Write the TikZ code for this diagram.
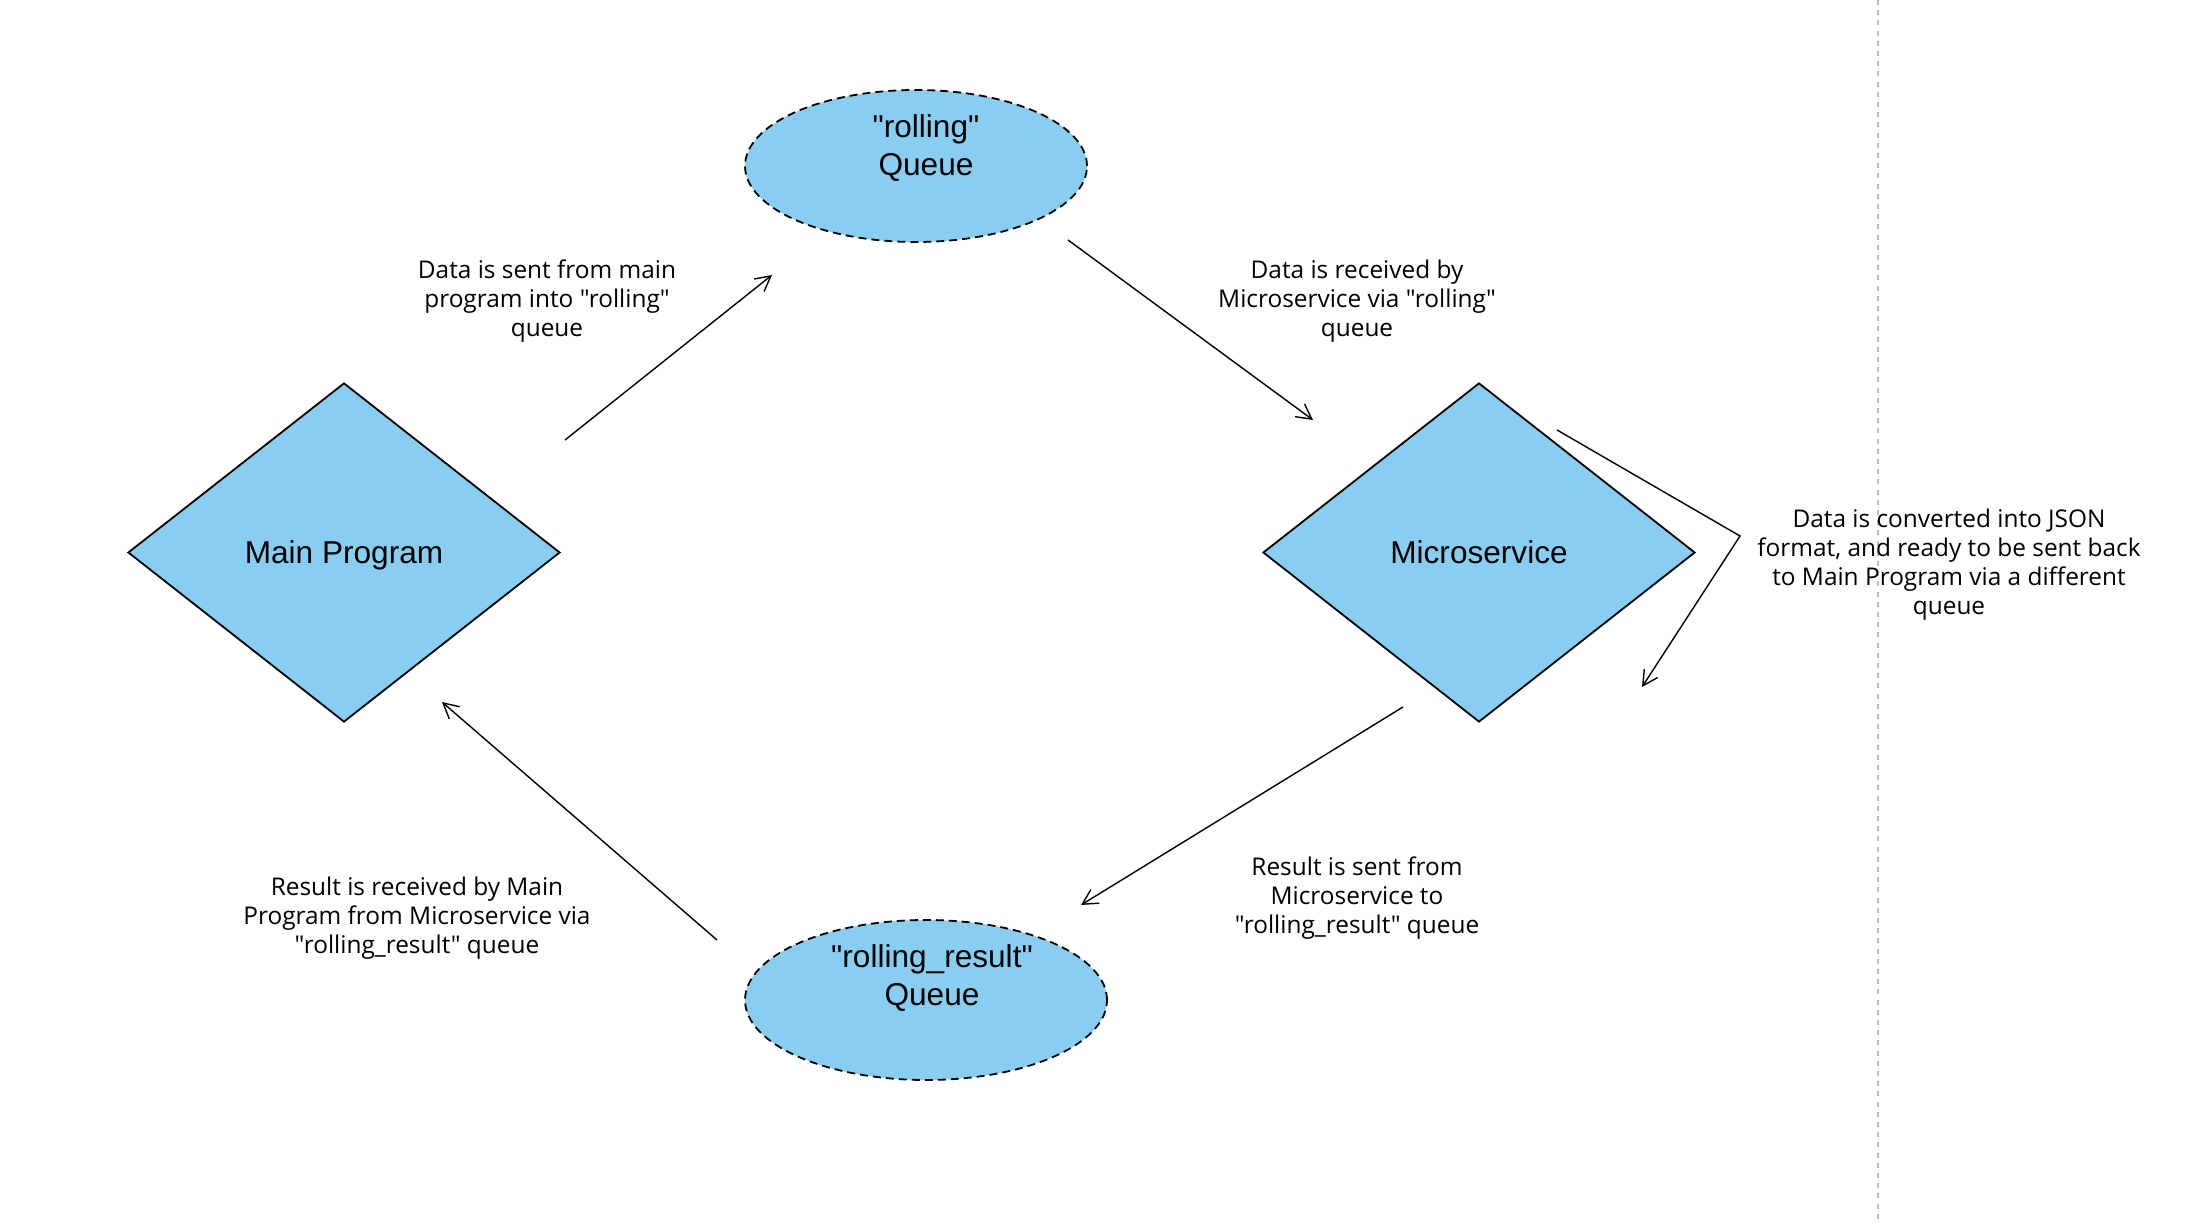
\documentclass[tikz,border=0pt]{standalone}
\usepackage{fontspec}
\newfontfamily\notefont{Open Sans}
\newfontfamily\shapefont{Liberation Sans}
\usetikzlibrary{shapes.geometric,arrows.meta}
\definecolor{queueblue}{RGB}{136,206,240}
\definecolor{pageline}{RGB}{190,190,190}
\tikzset{>={Straight Barb[length=7.5pt,width=8pt]}}
\tikzset{
	proc/.style={diamond, draw, line width=0.9pt, fill=queueblue, inner sep=0pt,
		minimum width=216pt, minimum height=169.5pt, text height=11.3pt, text depth=0pt,
		font=\shapefont\fontsize{15.8}{18}\selectfont},
	queue/.style={ellipse, draw, dashed, dash pattern=on 4pt off 2.5pt, line width=0.9pt,
		fill=queueblue, inner sep=0pt},
	qtext/.style={align=center, font=\shapefont\fontsize{15.8}{19}\selectfont},
	note/.style={align=center, font=\notefont\fontsize{12.2}{14.5}\selectfont},
	flow/.style={->, line width=0.7pt}
}

\begin{document}
\begin{tikzpicture}[x=0.5pt,y=-0.5pt]
	\useasboundingbox [fill=white] (0,0) rectangle (2205,1224);
	% page break line
	\draw [pageline, line width=0.6pt, dash pattern=on 2.5pt off 2.6pt] (1878,0) -- (1878,1224);
	% shapes
	\node [proc] (main) at (344,552.5) {Main Program};
	\node [proc] (micro) at (1479,552.5) {Microservice};
	\node [queue, minimum width=171pt, minimum height=76pt,
		label={[qtext, xshift=5pt, yshift=9pt]center:{"rolling"\\Queue}}] (rolling) at (916,166) {};
	\node [queue, minimum width=181pt, minimum height=80pt,
		label={[qtext, xshift=3pt, yshift=11pt]center:{"rolling\_result"\\Queue}}] (result) at (926,1000) {};
	% arrow ends
	\coordinate (s1) at (565,440);   \coordinate (e1) at (772,275);
	\coordinate (s2) at (1068,240);  \coordinate (e2) at (1313,420);
	\coordinate (s3) at (1557,430);  \coordinate (k3) at (1740,536);  \coordinate (e3) at (1642,687);
	\coordinate (s4) at (1403,707);  \coordinate (e4) at (1081,905);
	\coordinate (s5) at (717,940);   \coordinate (e5) at (442,702);
	\draw [flow] (s1) -- (e1);
	\draw [flow] (s2) -- (e2);
	\draw [flow] (s3) -- (k3) -- (e3);
	\draw [flow] (s4) -- (e4);
	\draw [flow] (s5) -- (e5);
	% notes
	\node [note] (n1) at (547,301) {Data is sent from main\\program into "rolling"\\queue};
	\node [note] (n2) at (1357,301) {Data is received by\\Microservice via "rolling"\\queue};
	\node [note] (n3) at (1949,565) {Data is converted into JSON\\format, and ready to be sent back\\to Main Program via a different\\queue};
	\node [note] (n4) at (1357,898) {Result is sent from\\Microservice to\\"rolling\_result" queue};
	\node [note] (n5) at (417,918) {Result is received by Main\\Program from Microservice via\\"rolling\_result" queue};
\end{tikzpicture}
\end{document}
